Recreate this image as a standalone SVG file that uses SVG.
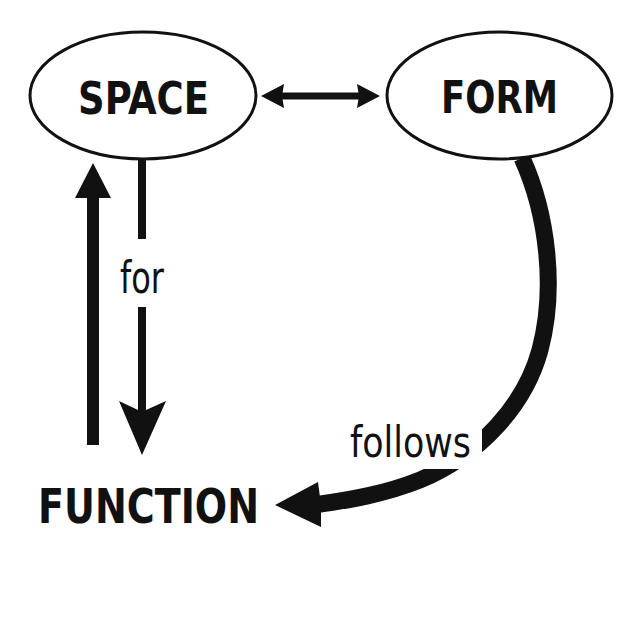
<svg xmlns="http://www.w3.org/2000/svg" width="639" height="621" viewBox="0 0 639 621">
  <style>
    .node { fill: #ffffff; stroke: #111111; stroke-width: 3; }
    .title { font-family: "DejaVu Sans Condensed", "DejaVu Sans", sans-serif; font-weight: bold; fill: #111111; }
    .lbl { font-family: "DejaVu Sans Condensed", "DejaVu Sans", sans-serif; font-weight: normal; fill: #111111; }
    .shaft { stroke: #111111; fill: none; }
    .head { fill: #111111; stroke: none; }
  </style>
  <rect width="639" height="621" fill="#ffffff"/>

  <g id="connectors">
    <!-- SPACE <-> FORM -->
    <g id="edge-space-form">
      <line class="shaft" x1="280" y1="96" x2="362" y2="96" stroke-width="7"/>
      <polygon class="head" points="261,96 284,84 282,96 284,108"/>
      <polygon class="head" points="380,96 357,84 359,96 357,108"/>
    </g>
    <!-- FUNCTION -> SPACE -->
    <g id="edge-function-space">
      <line class="shaft" x1="93" y1="445" x2="93" y2="194" stroke-width="12"/>
      <polygon class="head" points="93,163 111,198 75,198"/>
    </g>
    <!-- SPACE for FUNCTION -->
    <g id="edge-space-function">
      <line class="shaft" x1="142" y1="159" x2="142" y2="239" stroke-width="8"/>
      <line class="shaft" x1="142" y1="307" x2="142" y2="412" stroke-width="8"/>
      <polygon class="head" points="142,455 119,401 138,410 146,410 166,401"/>
      <text class="lbl" x="120" y="293" font-size="44" textLength="44" lengthAdjust="spacingAndGlyphs">for</text>
    </g>
    <!-- FORM follows FUNCTION -->
    <g id="edge-form-function">
      <path class="shaft" stroke-width="17" d="M522,158 C548,215 556,290 540,350 C525,405 480,455 420,480 C385,494 350,500 314,505"/>
      <rect x="340" y="412" width="142" height="57" fill="#ffffff"/>
      <polygon class="head" points="275,505 318,482 321,505 321,527"/>
      <text class="lbl" x="350" y="457" font-size="43" textLength="121" lengthAdjust="spacingAndGlyphs">follows</text>
    </g>
  </g>

  <g id="node-space">
    <ellipse class="node" cx="143" cy="95.5" rx="113" ry="63.5"/>
    <text class="title" x="78" y="114" font-size="44" textLength="131" lengthAdjust="spacingAndGlyphs">SPACE</text>
  </g>
  <g id="node-form">
    <ellipse class="node" cx="499.5" cy="95.5" rx="112.5" ry="63.5"/>
    <text class="title" x="441" y="113" font-size="45" textLength="117" lengthAdjust="spacingAndGlyphs">FORM</text>
  </g>
  <g id="node-function">
    <text class="title" x="38" y="523" font-size="48" textLength="221" lengthAdjust="spacingAndGlyphs">FUNCTION</text>
  </g>
</svg>
